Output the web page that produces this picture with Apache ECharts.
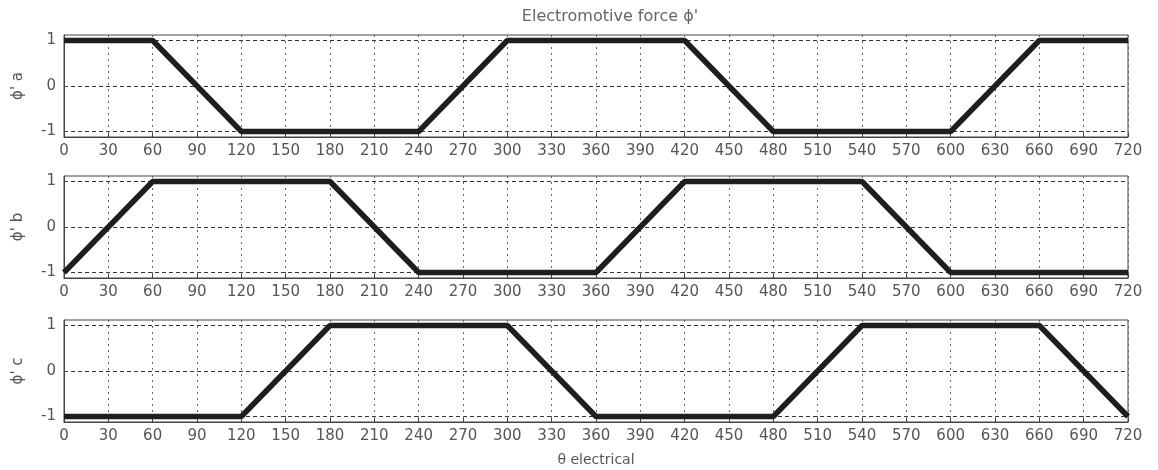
<!DOCTYPE html>
<html>
<head>
<meta charset="utf-8">
<script src="https://cdn.jsdelivr.net/npm/echarts@6/dist/echarts.min.js"></script>
<style>
  html, body { margin: 0; padding: 0; background: #fff; }
  #chart { width: 1158px; height: 470px; }
</style>
</head>
<body>
<div id="chart"></div>
<script>
// electrical angle ticks
const xTicks = [0, 30, 60, 90, 120, 150, 180, 210, 240, 270, 300, 330, 360, 390, 420, 450, 480, 510, 540, 570, 600, 630, 660, 690, 720]
const yTicks = [-1, 0, 1]

// phase a
const aX = [0, 60, 120, 240, 300, 420, 480, 600, 660, 720]
const aY = [1, 1, -1, -1, 1, 1, -1, -1, 1, 1]
// phase b
const bX = [0, 60, 180, 240, 360, 420, 540, 600, 720]
const bY = [-1, 1, 1, -1, -1, 1, 1, -1, -1]
// phase c
const cX = [0, 120, 180, 300, 360, 480, 540, 660, 720]
const cY = [-1, -1, 1, 1, -1, -1, 1, 1, -1]

const yNames = ["\u03d5' a", "\u03d5' b", "\u03d5' c"]
const tops = [35, 176, 320]

const toPairs = (xs, ys) => xs.map((x, i) => [x, ys[i]])
const seriesData = [toPairs(aX, aY), toPairs(bX, bY), toPairs(cX, cY)]

let chart = echarts.init(document.getElementById('chart'))

const labelFont = { color: '#555', fontSize: 15, fontFamily: 'DejaVu Sans, sans-serif' }

let option = {
    backgroundColor: '#fff',
    animation: false,
    title: {
        text: "Electromotive force \u03d5'",
        left: 605,
        textAlign: 'center',
        top: 4,
        textStyle: { color: '#666', fontSize: 16, fontWeight: 'normal', fontFamily: 'DejaVu Sans, sans-serif' }
    },
    grid: tops.map(t => ({
        left: 64, width: 1064, top: t, height: 102,
        show: true, borderColor: '#444', borderWidth: 1, backgroundColor: '#fff'
    })),
    xAxis: tops.map((t, i) => ({
        type: 'value', gridIndex: i, min: 0, max: 720, interval: 30,
        name: i === 2 ? '\u03b8 electrical' : '',
        nameLocation: 'middle', nameGap: 31,
        nameTextStyle: Object.assign({}, labelFont, { fontSize: 14 }),
        axisLine: { show: true, onZero: false, lineStyle: { color: '#444' } },
        axisTick: { show: true, inside: true, length: 4, lineStyle: { color: '#444' } },
        axisLabel: Object.assign({ margin: 7 }, labelFont),
        splitLine: { show: true, lineStyle: { color: '#666', type: [2, 4], width: 1 } }
    })),
    yAxis: tops.map((t, i) => ({
        type: 'value', gridIndex: i, min: -1.12, max: 1.12,
        name: yNames[i], nameLocation: 'middle', nameGap: 38, nameRotate: 90,
        nameTextStyle: labelFont,
        axisLine: { show: true, onZero: false, lineStyle: { color: '#444' } },
        axisTick: { show: true, inside: true, length: 4, customValues: yTicks, lineStyle: { color: '#444' } },
        axisLabel: Object.assign({ margin: 8, customValues: yTicks }, labelFont),
        splitLine: { show: true, lineStyle: { color: '#333', type: [4, 3], width: 1 } }
    })),
    series: seriesData.map((d, i) => ({
        type: 'line', xAxisIndex: i, yAxisIndex: i,
        data: d, symbol: 'none',
        lineStyle: { color: '#1e1e1e', width: 5.5 }
    }))
}

chart.setOption(option)
</script>
</body>
</html>
